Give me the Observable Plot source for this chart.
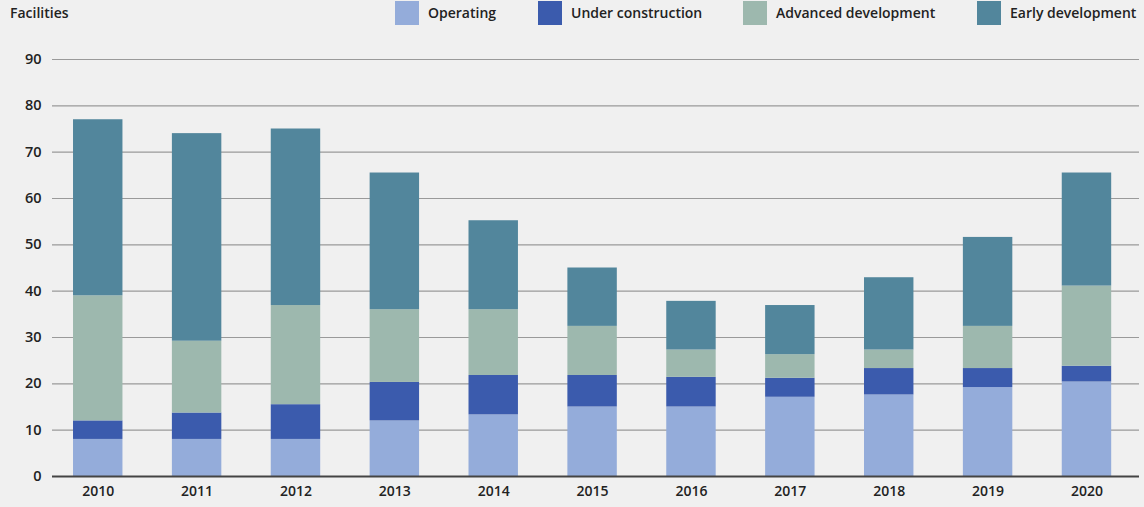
<!DOCTYPE html>
<html>
<head>
<meta charset="utf-8">
<script src="https://cdn.jsdelivr.net/npm/d3@7"></script>
<script src="https://cdn.jsdelivr.net/npm/@observablehq/plot@0.6"></script>
<style>
  html, body { margin: 0; padding: 0; background: #f0f0f0; }
  body { width: 1144px; height: 507px; overflow: hidden; font-family: "Open Sans", sans-serif; color: #222; }
  #header { position: relative; height: 28px; }
  #header .lbl { position: absolute; top: 3px; font-size: 14px; font-weight: 600; line-height: 20px; white-space: nowrap; }
  #header .sw { position: absolute; top: 1px; width: 24px; height: 24px; }
  #chart svg { display: block; }
</style>
</head>
<body>
<div id="header"></div>
<div id="chart"></div>
<script>
// Facilities by stage of development, 2010–2020
const years = ["2010", "2011", "2012", "2013", "2014", "2015", "2016", "2017", "2018", "2019", "2020"];
const stages = ["Operating", "Under construction", "Advanced development", "Early development"];
const stageColors = ["#94acda", "#3b5bad", "#9db8ae", "#52869c"];

// Number of facilities in each stage (stacked from the bottom up)
const operating = [8, 8, 8, 12, 13.3, 15, 15, 17.1, 17.6, 19.2, 20.4];
const underConstruction = [4, 5.7, 7.5, 8.3, 8.5, 6.8, 6.4, 4.1, 5.7, 4.1, 3.4];
const advancedDevelopment = [27, 15.5, 21.4, 15.7, 14.2, 10.6, 5.9, 5.1, 4, 9.1, 17.3];
const earlyDevelopment = [38, 44.8, 38.1, 29.5, 19.2, 12.6, 10.5, 10.6, 15.6, 19.2, 24.4];

const yTicks = [0, 10, 20, 30, 40, 50, 60, 70, 80, 90];

const series = [operating, underConstruction, advancedDevelopment, earlyDevelopment];
const rows = [];
years.forEach((year, i) => {
  stages.forEach((stage, s) => rows.push({year, stage, value: series[s][i]}));
});

// Header: axis title and legend
const header = document.getElementById("header");
const title = document.createElement("div");
title.className = "lbl";
title.style.left = "10px";
title.textContent = "Facilities";
header.appendChild(title);

const legendX = [395, 538, 743, 977];
stages.forEach((stage, s) => {
  const sw = document.createElement("div");
  sw.className = "sw";
  sw.style.left = legendX[s] + "px";
  sw.style.background = stageColors[s];
  header.appendChild(sw);
  const t = document.createElement("div");
  t.className = "lbl";
  t.style.left = (legendX[s] + 33) + "px";
  t.textContent = stage;
  header.appendChild(t);
});

const chart = Plot.plot({
  width: 1144,
  height: 479,
  marginTop: 31,
  marginBottom: 31,
  marginLeft: 52,
  marginRight: 5,
  style: {background: "#f0f0f0", fontFamily: "Open Sans, sans-serif", fontSize: "14px", fontWeight: 600, color: "#222"},
  x: {domain: years, range: [48.3, 1135.9], paddingInner: 0.5, paddingOuter: 0.25, round: false, label: null},
  y: {domain: [0, 90], label: null},
  color: {domain: stages, range: stageColors},
  marks: [
    Plot.ruleY(yTicks.filter(d => d > 0), {stroke: "#9a9a9a", strokeWidth: 1.2}),
    Plot.barY(rows, Plot.stackY({x: "year", y: "value", fill: "stage", order: stages})),
    Plot.ruleY([0], {stroke: "#444", strokeWidth: 2}),
    Plot.axisY({ticks: yTicks, tickSize: 0, tickPadding: 11, label: null, fontSize: 14.5}),
    Plot.axisX({tickSize: 0, tickPadding: 10, label: null, fontSize: 14})
  ]
});
document.getElementById("chart").appendChild(chart);
</script>
</body>
</html>
